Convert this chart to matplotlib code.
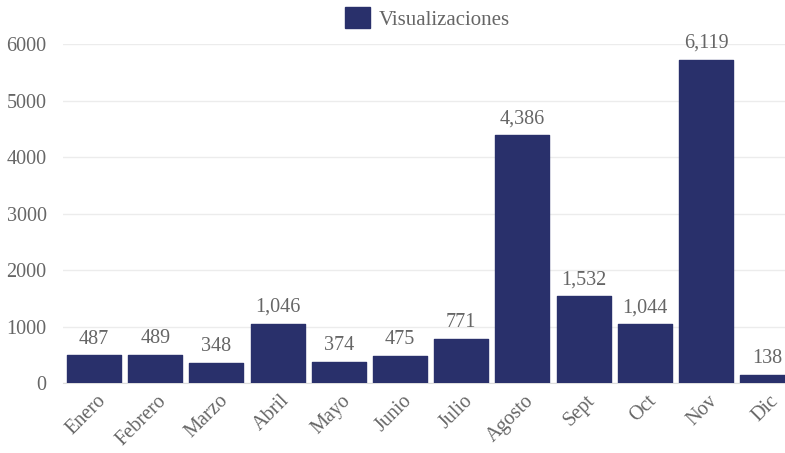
import matplotlib.pyplot as plt
import matplotlib.transforms as mtransforms

months = ['Enero', 'Febrero', 'Marzo', 'Abril', 'Mayo', 'Junio',
          'Julio', 'Agosto', 'Sept', 'Oct', 'Nov', 'Dic']
# bar heights as drawn in the chart (Nov bar sits lower than its label)
heights = [487, 489, 348, 1046, 374, 475, 771, 4386, 1532, 1044, 5720, 138]
value_labels = ['487', '489', '348', '1,046', '374', '475', '771',
                '4,386', '1,532', '1,044', '6,119', '138']
yticks = [0, 1000, 2000, 3000, 4000, 5000, 6000]

bar_color = '#29306b'
text_color = '#666666'
plt.rcParams['font.family'] = ['Liberation Serif', 'DejaVu Serif']

fig = plt.figure(figsize=(7.85, 4.53), dpi=100)
ax = fig.add_axes([63.4 / 785, 70 / 453, 734.4 / 785, 339 / 453])

x = list(range(len(months)))
bars = ax.bar(x, heights, width=0.88, color=bar_color, edgecolor=bar_color,
              linewidth=1.0, zorder=3, label='Visualizaciones')
for b in bars:
    b.set_joinstyle('round')

for xi, h, lab in zip(x, heights, value_labels):
    ax.annotate(lab, (xi, h), xytext=(0, 5), textcoords='offset points',
                ha='center', va='bottom', fontsize=14.5, color=text_color)

ax.set_xlim(-0.5, 11.5)
ax.set_ylim(0, 6000)
ax.set_yticks(yticks)
ax.set_yticklabels([str(t) for t in yticks])
ax.set_xticks(x)
ax.set_xticklabels(months, rotation=45, ha='right', rotation_mode='anchor')
ax.tick_params(axis='both', length=0, labelsize=14.5, labelcolor=text_color)
ax.tick_params(axis='y', pad=12)
ax.tick_params(axis='x', pad=6)
shift = mtransforms.ScaledTranslation(2 / 100, 0, fig.dpi_scale_trans)
for t in ax.get_xticklabels():
    t.set_transform(t.get_transform() + shift)

ax.grid(axis='y', color='#ececec', linewidth=1, zorder=0)
for s in ['top', 'right', 'left']:
    ax.spines[s].set_visible(False)
ax.spines['bottom'].set_color('#dddddd')

ax.legend(loc='upper center', bbox_to_anchor=(0.5 - 3 / 734.4, 1.165),
          frameon=False, fontsize=15, labelcolor=text_color,
          handlelength=1.2, handleheight=1.2, handletextpad=0.45)

fig.savefig('out.png', dpi=100)
